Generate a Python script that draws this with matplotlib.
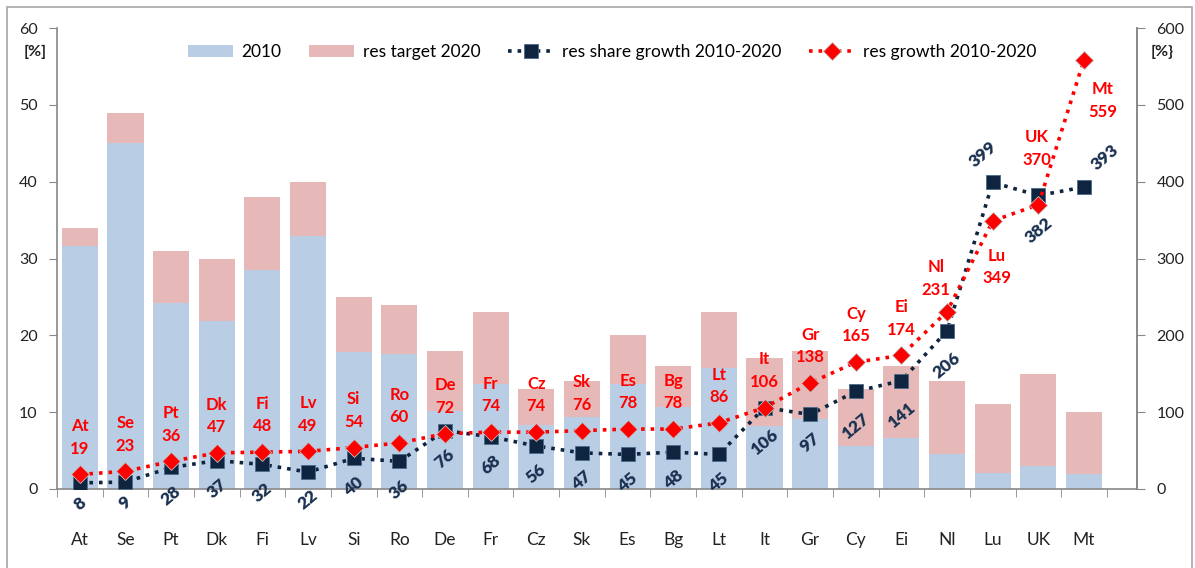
import matplotlib.pyplot as plt
from matplotlib.patches import Rectangle
import numpy as np

plt.rcParams['font.family'] = ['Lato', 'DejaVu Sans']

countries = ['At', 'Se', 'Pt', 'Dk', 'Fi', 'Lv', 'Si', 'Ro', 'De', 'Fr', 'Cz', 'Sk',
             'Es', 'Bg', 'Lt', 'It', 'Gr', 'Cy', 'Ei', 'Nl', 'Lu', 'UK', 'Mt']
share_2010 = [31.6, 45.0, 24.2, 21.9, 28.5, 32.9, 17.8, 17.6, 10.2, 13.7, 8.3, 9.4,
              13.7, 10.7, 15.8, 8.2, 9.1, 5.6, 6.6, 4.6, 2.1, 3.0, 1.9]
target_2020 = [34, 49, 31, 30, 38, 40, 25, 24, 18, 23, 13, 14,
               20, 16, 23, 17, 18, 13, 16, 14, 11, 15, 10]
share_growth = [8, 9, 28, 37, 32, 22, 40, 36, 76, 68, 56, 47,
                45, 48, 45, 106, 97, 127, 141, 206, 399, 382, 393]
res_growth = [19, 23, 36, 47, 48, 49, 54, 60, 72, 74, 74, 76,
              78, 78, 86, 106, 138, 165, 174, 231, 349, 370, 559]

blue = '#b9cde5'
pink = '#e6b9b8'
navy = '#0f243e'
navy_txt = '#1a3050'
red = '#ff0000'

x = np.arange(len(countries))
fig = plt.figure(figsize=(11.95, 5.68), dpi=100)
ax = fig.add_axes([57 / 1195, 1 - 489 / 568, (1137 - 57) / 1195, (489 - 28) / 568])
ax2 = ax.twinx()

tgt_extra = [t - s for t, s in zip(target_2020, share_2010)]
b1 = ax.bar(x, share_2010, width=0.79, color=blue, zorder=2)
b2 = ax.bar(x, tgt_extra, bottom=share_2010, width=0.79, color=pink, zorder=2)

l1, = ax2.plot(x, share_growth, linestyle=':', color=navy, lw=2.6, marker='s',
               markersize=10, markerfacecolor=navy, markeredgecolor='#4a6a8a',
               markeredgewidth=0.6, zorder=4)
l2, = ax2.plot(x, res_growth, linestyle=':', color=red, lw=2.6, marker='D',
               markersize=9, markerfacecolor=red, markeredgecolor='#c0c0c0',
               markeredgewidth=0.6, zorder=5)

ax.set_xlim(-0.5, 23.16)
ax.set_ylim(0, 60)
ax2.set_ylim(0, 600)
ax.set_yticks(range(0, 61, 10))
ax2.set_yticks(range(0, 601, 100))
ax.set_xticks(x)
ax.set_xticklabels(countries, fontsize=12.5, color='#222222')
ax.set_xticks(np.arange(-0.5, 23, 1), minor=True)
ax.tick_params(axis='x', which='major', length=0, pad=31)
ax.tick_params(axis='x', which='minor', length=6, color='#888888', direction='out')
ax.tick_params(axis='y', length=6, color='#888888', labelsize=11.5, pad=8, labelcolor='#222222')
ax2.tick_params(axis='y', length=6, color='#888888', labelsize=11.5, pad=8, labelcolor='#222222')
for a in (ax, ax2):
    a.spines['top'].set_visible(False)
    for s in ('left', 'right', 'bottom'):
        a.spines[s].set_color('#888888')
        a.spines[s].set_linewidth(1.2)
ax2.spines['left'].set_visible(False)
ax2.spines['bottom'].set_visible(False)
ax.set_zorder(1)
ax2.set_zorder(2)
ax.patch.set_visible(False)

# red labels (country + growth) above diamonds
red_off = {'Nl': (-11, 33), 'Lu': (4, -46), 'UK': (-2, 56), 'Mt': (19, -41)}
for i, (c, v) in enumerate(zip(countries, res_growth)):
    dx, dy = red_off.get(c, (0, 37))
    ax2.annotate(f'{c}\n{v}', (i, v), xytext=(dx, dy), textcoords='offset pixels',
                 ha='center', va='center', color=red, fontsize=12,
                 fontweight='bold', linespacing=1.5, zorder=6)

# navy labels (share growth), rotated
navy_off = {'Lu': (-10, 28), 'Mt': (21, 30)}
for i, (c, v) in enumerate(zip(countries, share_growth)):
    n = len(str(v))
    dx, dy = navy_off.get(c, (0, -(14 + 7 * n)))
    ax2.annotate(str(v), (i, v), xytext=(dx, dy), textcoords='offset pixels',
                 ha='center', va='center', color=navy_txt, fontsize=12.5,
                 fontweight='heavy', rotation=40, zorder=6)

fig.text(35 / 1195, 1 - 52 / 568, '[%]', ha='center', va='center',
         fontsize=11.5, fontweight='bold', color='#222222')
fig.text(1162 / 1195, 1 - 52 / 568, '[%}', ha='center', va='center',
         fontsize=11.5, fontweight='bold', color='#222222')

fig.legend([b1, b2, l1, l2],
           ['2010', 'res target 2020', 'res share growth 2010-2020', 'res growth 2010-2020'],
           loc='center', bbox_to_anchor=(612 / 1195, 1 - 52 / 568), ncol=4,
           frameon=False, fontsize=12.5, handlelength=2.6, columnspacing=1.6,
           handletextpad=0.5)

fig.patches.append(Rectangle((7 / 1195, -0.02), (1192 - 7) / 1195, 1.02 - 7 / 568,
                             transform=fig.transFigure, fill=False,
                             edgecolor='#a6a6a6', lw=1.2))

fig.savefig('out.png', dpi=100)
